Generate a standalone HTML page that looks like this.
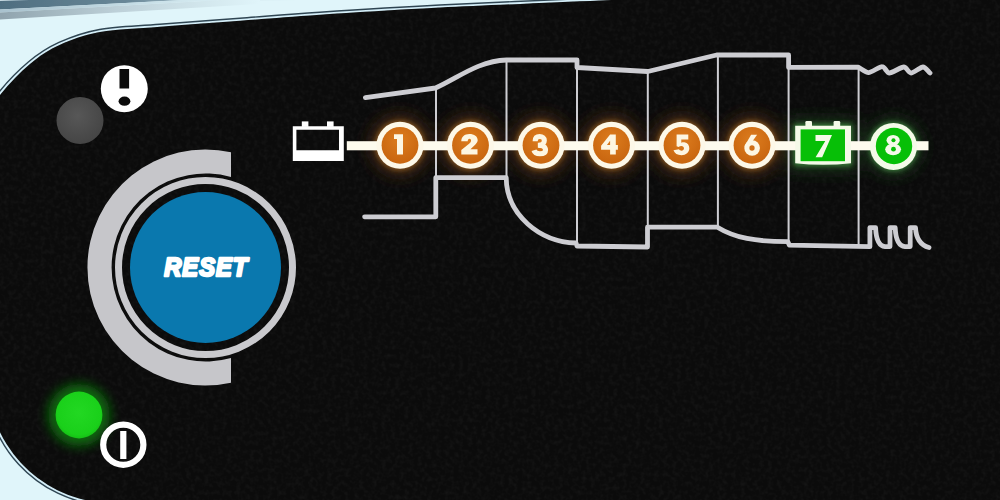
<!DOCTYPE html>
<html><head><meta charset="utf-8">
<style>
html,body{margin:0;padding:0;background:#e0f5fa;}
body{width:1000px;height:500px;overflow:hidden;}
svg{display:block;}
</style></head>
<body>
<svg width="1000" height="500" viewBox="0 0 1000 500">
<defs>
  <linearGradient id="band" gradientUnits="userSpaceOnUse" x1="0" y1="0" x2="260" y2="0">
    <stop offset="0" stop-color="#4e6e80"/>
    <stop offset="0.5" stop-color="#6a8898"/>
    <stop offset="1" stop-color="#e0f5fa"/>
  </linearGradient>
  <linearGradient id="band3" gradientUnits="userSpaceOnUse" x1="0" y1="0" x2="260" y2="0">
    <stop offset="0" stop-color="#a9c2ce"/>
    <stop offset="1" stop-color="#e0f5fa"/>
  </linearGradient>
  <linearGradient id="band2" gradientUnits="userSpaceOnUse" x1="0" y1="0" x2="260" y2="0">
    <stop offset="0" stop-color="#8fa3ad"/>
    <stop offset="0.45" stop-color="#bdd0d8"/>
    <stop offset="1" stop-color="#e0f5fa"/>
  </linearGradient>
  <radialGradient id="grey" cx="0.45" cy="0.4" r="0.6">
    <stop offset="0" stop-color="#575757"/>
    <stop offset="1" stop-color="#454545"/>
  </radialGradient>
  <radialGradient id="orng" cx="0.5" cy="0.35" r="0.65">
    <stop offset="0" stop-color="#dc7c1e"/>
    <stop offset="1" stop-color="#c8650f"/>
  </radialGradient>
  <radialGradient id="led" cx="0.5" cy="0.45" r="0.55"><stop offset="0" stop-color="#22d822"/><stop offset="0.85" stop-color="#1ad01a"/><stop offset="1" stop-color="#16c016"/></radialGradient>
  <filter id="blur6" x="-1" y="-1" width="3" height="3"><feGaussianBlur stdDeviation="6"/></filter>
  <filter id="blur4" x="-1" y="-1" width="3" height="3"><feGaussianBlur stdDeviation="4"/></filter>
  <filter id="blur1" x="-1" y="-1" width="3" height="3"><feGaussianBlur stdDeviation="0.6"/></filter>
  <filter id="blur8" x="-1" y="-1" width="3" height="3"><feGaussianBlur stdDeviation="8"/></filter>
  <filter id="blur3" x="-1" y="-1" width="3" height="3"><feGaussianBlur stdDeviation="2.5"/></filter>
  <filter id="blur2" x="-1" y="-1" width="3" height="3"><feGaussianBlur stdDeviation="1.5"/></filter>
  <filter id="tex" x="0" y="0" width="1" height="1" color-interpolation-filters="sRGB">
    <feTurbulence type="fractalNoise" baseFrequency="0.22" numOctaves="2" seed="3"/>
    <feColorMatrix type="matrix" values="0 0 0 0 0.12  0 0 0 0 0.12  0 0 0 0 0.12  1.0 0 0 0 -0.42"/>
  </filter>
  <clipPath id="pclip"><path d="M 1020,530 L 110,530 L 101.8,502.6 A 125,125 0 0 1 -12.3,378.0 L -40,300 L -60,180 L -30.0,140.0 C -20.0,125.8 -10.0,107.7 0.0,95.0 C 10.0,82.3 20.0,72.4 30.0,64.0 C 40.0,55.6 48.3,50.1 60.0,44.8 C 71.7,39.5 83.3,35.0 100.0,32.0 C 116.7,29.0 136.7,28.7 160.0,26.8 C 183.3,24.9 213.3,22.8 240.0,20.8 C 266.7,18.8 286.7,17.0 320.0,14.8 C 353.3,12.6 393.3,10.0 440.0,7.6 C 486.7,5.2 556.7,2.4 600.0,0.5 C 643.3,-1.4 666.7,-2.6 700.0,-4.0 L 1020,-20 Z"/></clipPath>
</defs>

<!-- light background -->
<rect x="0" y="0" width="1000" height="500" fill="#e0f5fa"/>
<g filter="url(#blur1)">
<polygon points="0,0 300,0 0,1" fill="#c8dce4"/>
<polygon points="0,1 260,-8 260,-4 0,9.5" fill="url(#band)"/>
<polygon points="0,9.5 260,-4 260,-2 0,12.5" fill="url(#band3)"/>
<polygon points="0,12.5 260,-2 260,4 0,19.5" fill="url(#band2)"/>
</g>

<!-- panel -->
<path id="panel" d="M 1020,530 L 110,530 L 101.8,502.6 A 125,125 0 0 1 -12.3,378.0 L -40,300 L -60,180 L -30.0,140.0 C -20.0,125.8 -10.0,107.7 0.0,95.0 C 10.0,82.3 20.0,72.4 30.0,64.0 C 40.0,55.6 48.3,50.1 60.0,44.8 C 71.7,39.5 83.3,35.0 100.0,32.0 C 116.7,29.0 136.7,28.7 160.0,26.8 C 183.3,24.9 213.3,22.8 240.0,20.8 C 266.7,18.8 286.7,17.0 320.0,14.8 C 353.3,12.6 393.3,10.0 440.0,7.6 C 486.7,5.2 556.7,2.4 600.0,0.5 C 643.3,-1.4 666.7,-2.6 700.0,-4.0 L 1020,-20 Z" fill="#0b0b0b" stroke="#2f4552" stroke-width="6.6"/>
<path d="M 1020,530 L 110,530 L 101.8,502.6 A 125,125 0 0 1 -12.3,378.0 L -40,300 L -60,180 L -30.0,140.0 C -20.0,125.8 -10.0,107.7 0.0,95.0 C 10.0,82.3 20.0,72.4 30.0,64.0 C 40.0,55.6 48.3,50.1 60.0,44.8 C 71.7,39.5 83.3,35.0 100.0,32.0 C 116.7,29.0 136.7,28.7 160.0,26.8 C 183.3,24.9 213.3,22.8 240.0,20.8 C 266.7,18.8 286.7,17.0 320.0,14.8 C 353.3,12.6 393.3,10.0 440.0,7.6 C 486.7,5.2 556.7,2.4 600.0,0.5 C 643.3,-1.4 666.7,-2.6 700.0,-4.0 L 1020,-20 Z" fill="none" stroke="#d4eef8" stroke-width="3.8"/>
<path d="M 1020,530 L 110,530 L 101.8,502.6 A 125,125 0 0 1 -12.3,378.0 L -40,300 L -60,180 L -30.0,140.0 C -20.0,125.8 -10.0,107.7 0.0,95.0 C 10.0,82.3 20.0,72.4 30.0,64.0 C 40.0,55.6 48.3,50.1 60.0,44.8 C 71.7,39.5 83.3,35.0 100.0,32.0 C 116.7,29.0 136.7,28.7 160.0,26.8 C 183.3,24.9 213.3,22.8 240.0,20.8 C 266.7,18.8 286.7,17.0 320.0,14.8 C 353.3,12.6 393.3,10.0 440.0,7.6 C 486.7,5.2 556.7,2.4 600.0,0.5 C 643.3,-1.4 666.7,-2.6 700.0,-4.0 L 1020,-20 Z" fill="#0b0b0b"/>

<rect x="0" y="0" width="1000" height="500" filter="url(#tex)" clip-path="url(#pclip)"/>

<!-- status LEDs -->
<circle cx="80" cy="120.5" r="23.5" fill="url(#grey)"/>
<circle cx="124.3" cy="88.7" r="23.5" fill="#fff"/>
<rect x="119.5" y="69" width="9.6" height="19.5" fill="#0b0b0b"/>
<ellipse cx="124.5" cy="101.2" rx="5.9" ry="4.6" fill="#0b0b0b"/>

<!-- green LED -->
<circle cx="79" cy="415" r="31" fill="#0a6a0a" filter="url(#blur6)"/>
<circle cx="79" cy="415" r="23.4" fill="url(#led)"/>
<!-- power icon -->
<circle cx="123.3" cy="444.7" r="20.1" fill="none" stroke="#fff" stroke-width="6.2"/>
<rect x="120.2" y="431" width="6.2" height="28" fill="#fff"/>

<!-- reset button -->
<path d="M 231,152.3 A118,118 0 1 0 231,382.7 L 231,358 A94,94 0 1 1 231,177 Z" fill="#c6c6ca"/>
<circle cx="205.5" cy="267.5" r="87" fill="none" stroke="#c9c9cd" stroke-width="7"/>
<circle cx="205.5" cy="267.5" r="75.5" fill="#0a78ae"/>
<text transform="translate(164.3,275.6) scale(0.9,1)" x="0" y="0" font-family="Liberation Sans" font-weight="bold" font-style="italic" font-size="26.3" fill="#fff" stroke="#fff" stroke-width="2.5" stroke-linejoin="round" letter-spacing="1.1">RESET</text>

<!-- glows -->
<g filter="url(#blur8)" opacity="0.9">
  <circle cx="400" cy="145.3" r="30" fill="#4a2c12"/>
  <circle cx="470.5" cy="145.3" r="30" fill="#4a2c12"/>
  <circle cx="541" cy="145.3" r="30" fill="#4a2c12"/>
  <circle cx="611.5" cy="145.3" r="30" fill="#4a2c12"/>
  <circle cx="682" cy="145.3" r="30" fill="#4a2c12"/>
  <circle cx="752" cy="145.3" r="30" fill="#4a2c12"/>
  <rect x="789" y="120" width="68" height="50" fill="#1a3a1a"/>
  <circle cx="893.5" cy="146.5" r="28" fill="#1a3a1a"/>
</g>
<g filter="url(#blur3)">
  <circle cx="400" cy="145.3" r="24.5" fill="#8a5a22"/>
  <circle cx="470.5" cy="145.3" r="24.5" fill="#8a5a22"/>
  <circle cx="541" cy="145.3" r="24.5" fill="#8a5a22"/>
  <circle cx="611.5" cy="145.3" r="24.5" fill="#8a5a22"/>
  <circle cx="682" cy="145.3" r="24.5" fill="#8a5a22"/>
  <circle cx="752" cy="145.3" r="24.5" fill="#8a5a22"/>
  <rect x="794" y="124" width="58" height="42" fill="#3a7a3a"/>
  <circle cx="893.5" cy="146.5" r="24.5" fill="#3a7a3a"/>
</g>

<!-- diagram outline -->
<g fill="none" stroke="#cdcdd2" stroke-linecap="round" stroke-linejoin="round">
  <g stroke-width="2">
    <line x1="436" y1="88" x2="436" y2="177.6"/>
    <line x1="506.5" y1="60" x2="506.5" y2="177.6"/>
    <line x1="577" y1="68" x2="577" y2="243"/>
    <line x1="647.8" y1="71.5" x2="647.8" y2="227.2"/>
    <line x1="717.9" y1="55" x2="717.9" y2="227.2"/>
    <line x1="788.6" y1="67.4" x2="788.6" y2="242"/>
    <line x1="858.6" y1="67.4" x2="858.6" y2="246"/>
  </g>
  <g stroke-width="4.8">
    <path d="M 365.4,97.6 L 435.5,88 C 458,78 478,61 506.5,60 L 577,60 L 577,67.5 L 647.8,71.5 L 716.6,55 L 788.6,55 L 788.6,67.4 L 858.2,67.2 C 860.8,68.5 865.6,72.7 868.6,72.6 C 871.6,72.5 879.6,66.5 882.2,66.6 C 884.8,66.6 886.7,73.0 889.4,73.0 C 892.1,73.0 901.1,67.0 903.8,67.0 C 906.5,67.0 908.6,73.0 911.0,73.0 C 913.4,73.0 920.6,67.0 923.0,67.0 C 925.4,67.0 928.2,71.5 930.0,73.0"/>
    <path d="M 364.6,216.8 L 435.8,216.8 L 435.8,177.6 L 506.2,177.6 C 506.5,215 540,242 576,243 L 577,246 L 647.5,247 L 647.5,227.2 L 717.4,227.2 C 735,238 755,241.6 787.8,241.6 L 789.4,245.2 L 869.9,246.6 L 869.9,227.6 L 875.6,227.6 C 876,238 878,246 885,246.6 L 890,246.6 L 890,227.6 L 895.2,227.6 C 895.6,238 898,246 905,246.6 L 910.2,246.6 L 910.2,227.6 L 915.5,227.6 C 916,238 920,245 929,247.5"/>
  </g>
</g>

<!-- chain line -->
<rect x="346.8" y="141.2" width="581.7" height="9.1" fill="#fdfbee"/>

<!-- battery icon -->
<path d="M 292.8,126.2 H 343.8 V 161 H 292.8 Z M 296.4,129.8 V 150.2 H 339 V 129.8 Z" fill="#fff" fill-rule="evenodd"/>
<rect x="301.8" y="121.4" width="6.6" height="5.5" fill="#fff"/>
<rect x="327" y="121.4" width="6.6" height="5.5" fill="#fff"/>

<!-- stage circles -->
<g>
  <circle cx="400" cy="145.3" r="23.5" fill="#fdf8e8"/>
  <circle cx="400" cy="145.3" r="18.4" fill="url(#orng)"/>
  <circle cx="470.5" cy="145.3" r="23.5" fill="#fdf8e8"/>
  <circle cx="470.5" cy="145.3" r="18.4" fill="url(#orng)"/>
  <circle cx="541" cy="145.3" r="23.5" fill="#fdf8e8"/>
  <circle cx="541" cy="145.3" r="18.4" fill="url(#orng)"/>
  <circle cx="611.5" cy="145.3" r="23.5" fill="#fdf8e8"/>
  <circle cx="611.5" cy="145.3" r="18.4" fill="url(#orng)"/>
  <circle cx="682" cy="145.3" r="23.5" fill="#fdf8e8"/>
  <circle cx="682" cy="145.3" r="18.4" fill="url(#orng)"/>
  <circle cx="752" cy="145.3" r="23.5" fill="#fdf8e8"/>
  <circle cx="752" cy="145.3" r="18.4" fill="url(#orng)"/>
  <!-- 7 battery -->
  <path d="M795.2,125.8 H851 V163.2 Q823,166.5 795.2,163.2 Z" fill="#f4fae8"/>
  <rect x="805.4" y="121" width="6.6" height="6" rx="1.2" fill="#f4fae8"/>
  <rect x="833.6" y="121" width="6.6" height="6" rx="1.2" fill="#f4fae8"/>
  <rect x="800.6" y="129.4" width="44.4" height="31.8" fill="#07bf07"/>
  <circle cx="893.5" cy="146.5" r="23.5" fill="#f4fae8"/>
  <circle cx="894" cy="146" r="18.2" fill="#07bf07"/>
</g>
<!-- digits (drawn in 500-unit zoom boxes, scale .06) -->
<g fill="#fdf6e2">
  <g transform="translate(385,130) scale(0.06)">
    <path d="M150,70 L300,70 L300,410 L200,410 L200,150 L150,150 Z"/>
  </g>
  <g transform="translate(455,130) scale(0.06)">
    <path d="M105,410 L375,410 L375,320 L258,320 L340,240 C365,215 378,195 378,170 C378,105 320,65 240,65 C160,65 105,110 105,188 L212,188 C212,162 225,145 240,145 C256,145 268,158 268,176 C268,196 255,212 240,226 L105,332 Z"/>
  </g>
  <g transform="translate(529,132) scale(0.052)" fill="none" stroke="#fdf6e2" stroke-width="98">
    <path d="M118,178 C118,112 155,88 205,88 C262,88 295,118 295,162 C295,215 255,252 185,255"/>
    <path d="M170,255 C262,255 318,290 318,345 C318,395 275,418 210,418 C150,418 108,395 96,352"/>
  </g>
  <g transform="translate(596,130) scale(0.06)">
    <path fill-rule="evenodd" d="M235,75 L330,75 L330,250 L365,250 L365,330 L330,330 L330,410 L235,410 L235,330 L85,330 L85,262 Z M235,180 L235,250 L182,250 Z"/>
  </g>
  <g transform="translate(667,130) scale(0.06)">
    <path d="M160,75 L355,75 L355,160 L238,160 L238,212 C255,205 275,203 290,205 C345,215 372,255 372,305 C372,375 315,420 240,420 C175,420 125,390 108,338 L200,320 C210,336 225,344 242,344 C265,344 283,326 283,305 C283,283 265,266 240,266 C220,266 205,273 195,283 L160,272 Z"/>
  </g>
  <g transform="translate(737,130) scale(0.06)">
    <path d="M235,80 L335,80 L220,240 L120,280 Z"/>
    <circle cx="252" cy="300" r="130"/>
    <circle cx="250" cy="300" r="44" fill="#cf6e15"/>
  </g>
  <g transform="translate(808,130) scale(0.06)">
    <path d="M125,85 L400,85 L236,455 L126,455 L288,185 L125,185 Z" fill="#f4fae8"/>
  </g>
  <g transform="translate(878,130) scale(0.06)" fill="#f4fae8">
    <ellipse cx="252" cy="170" rx="110" ry="88"/>
    <ellipse cx="252" cy="322" rx="132" ry="98"/>
    <circle cx="258" cy="170" r="34" fill="#07bf07"/>
    <circle cx="258" cy="320" r="40" fill="#07bf07"/>
  </g>
</g>
</svg>
</body></html>
